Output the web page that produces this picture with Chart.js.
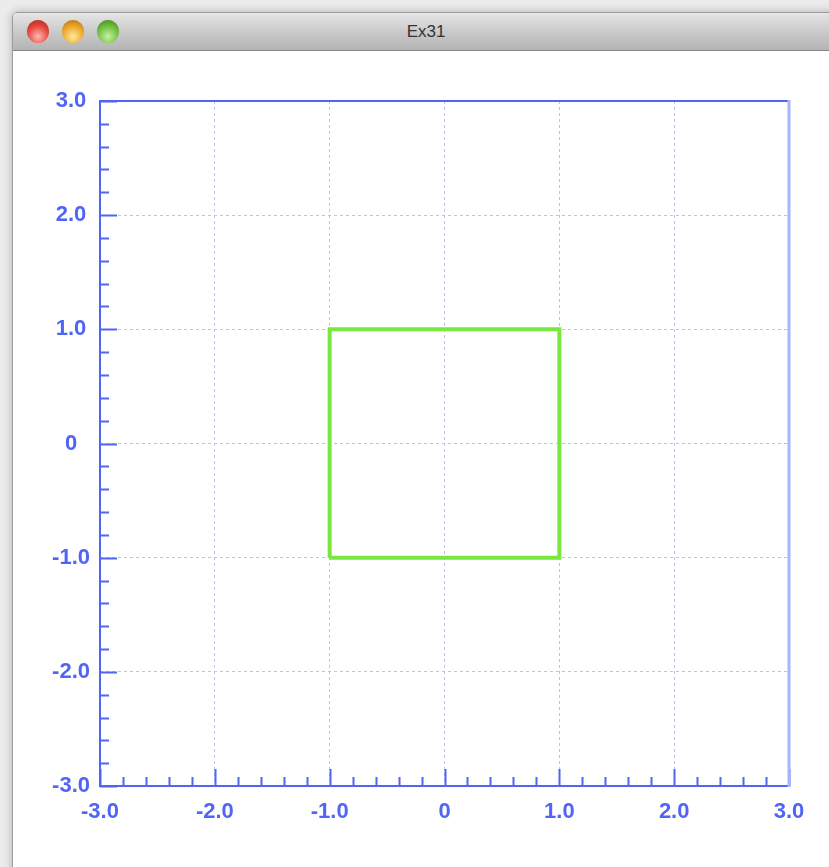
<!DOCTYPE html>
<html>
<head>
<meta charset="utf-8">
<script src="https://cdn.jsdelivr.net/npm/chart.js@4/dist/chart.umd.min.js"></script>
<style>
  html, body { margin: 0; padding: 0; }
  body { width: 829px; height: 867px; overflow: hidden; background: #ececec; position: relative; }
  #win {
    position: absolute; left: 12px; top: 12px; width: 826px; height: 870px;
    background: #fff; border: 1px solid #9c9c9c; border-radius: 5px 5px 0 0;
    box-shadow: 0 0 10px rgba(0,0,0,0.25); overflow: hidden;
  }
  #bar {
    position: absolute; left: 0; top: 0; right: 0; height: 37px;
    background: linear-gradient(#e6e6e6, #cacaca 50%, #b4b4b4);
    border-bottom: 1px solid #868686;
  }
  .dot { position: absolute; top: 7px; width: 22px; height: 23px; border-radius: 50%; }
  .red { left: 14px; background: radial-gradient(circle at 50% 72%, #ffb8b0, #e5433a 55%, #a52a22); }
  .yel { left: 49px; background: radial-gradient(circle at 50% 72%, #ffea9c, #eca427 55%, #a86c10); }
  .grn { left: 84px; background: radial-gradient(circle at 50% 72%, #c8f0a0, #6cbd3a 55%, #3f7f1c); }
  #title {
    position: absolute; left: 413px; top: 9px; transform: translateX(-50%);
    font: 17px "Liberation Sans Narrow", "Liberation Sans", Arial, sans-serif; color: #333;
  }
  #content { position: absolute; left: 0; top: 38px; }
</style>
</head>
<body>
<div id="win">
  <div id="bar">
    <div class="dot red"></div><div class="dot yel"></div><div class="dot grn"></div>
    <div id="title">Ex31</div>
  </div>
  <div id="content"><canvas id="plot" width="816" height="817"></canvas></div>
</div>
<script>
// data
const squareX = [-1, 1, 1, -1, -1];
const squareY = [-1, -1, 1, 1, -1];
const axisMin = -3;
const axisMax = 3;
const minorStep = 0.2;
const majorTicks = [-3, -2, -1, 0, 1, 2, 3];
const majorLabels = ['-3.0', '-2.0', '-1.0', '0', '1.0', '2.0', '3.0'];

const BLUE = 'rgb(80, 100, 245)';
const GRID = 'rgb(190, 190, 255)';

function majorIndex(v) {
    return majorTicks.findIndex(m => Math.abs(m - v) < 1e-6);
}

function tickLabel(v) {
    const i = majorIndex(v);
    return i >= 0 ? majorLabels[i] : '';
}

// only inner major values get a dashed grid line
function gridColor(c) {
    const v = c.tick ? c.tick.value : null;
    if (v === null) return 'transparent';
    const i = majorIndex(v);
    if (i <= 0 || i === majorTicks.length - 1) return 'transparent';
    return GRID;
}

// ticks pointing inward + frame around the plot area
const framePlugin = {
    id: 'frame',
    afterDatasetsDraw(chart) {
        const {ctx, chartArea: a, scales} = chart;
        ctx.save();
        ctx.strokeStyle = BLUE;
        ctx.lineWidth = 2;
        ctx.beginPath();
        for (const t of scales.x.ticks) {
            const px = Math.round(scales.x.getPixelForValue(t.value)) + 0.5;
            const len = majorIndex(t.value) >= 0 ? 17 : 9;
            ctx.moveTo(px, a.bottom);
            ctx.lineTo(px, a.bottom - len);
        }
        for (const t of scales.y.ticks) {
            const py = Math.round(scales.y.getPixelForValue(t.value)) + 0.5;
            const len = majorIndex(t.value) >= 0 ? 17 : 9;
            ctx.moveTo(a.left, py);
            ctx.lineTo(a.left + len, py);
        }
        ctx.stroke();

        ctx.beginPath();
        ctx.moveTo(a.right, a.top);
        ctx.lineTo(a.left, a.top);
        ctx.lineTo(a.left, a.bottom);
        ctx.lineTo(a.right, a.bottom);
        ctx.stroke();

        ctx.strokeStyle = 'rgb(165, 180, 255)';
        ctx.lineWidth = 3;
        ctx.beginPath();
        ctx.moveTo(a.right, a.top - 1);
        ctx.lineTo(a.right, a.bottom + 1);
        ctx.stroke();
        ctx.restore();
    }
};

const tickFont = { family: '"Liberation Sans", Arial, sans-serif', size: 22, weight: 'bold' };

new Chart(document.getElementById('plot').getContext('2d'), {
    type: 'scatter',
    data: {
        datasets: [{
            data: squareX.map((x, i) => ({ x: x, y: squareY[i] })),
            showLine: true,
            borderColor: 'rgb(120, 232, 60)',
            borderWidth: 4,
            pointRadius: 0,
            fill: false,
            tension: 0,
        }]
    },
    options: {
        responsive: false,
        animation: false,
        layout: { padding: { top: 50, right: 40, bottom: 32, left: 0 } },
        plugins: { legend: { display: false }, tooltip: { enabled: false } },
        scales: {
            x: {
                type: 'linear', min: axisMin, max: axisMax,
                afterFit: s => { s.height = 50; },
                border: { display: false, dash: [3, 3] },
                grid: { drawTicks: false, color: gridColor, lineWidth: 1 },
                ticks: {
                    stepSize: minorStep, autoSkip: false, maxRotation: 0,
                    padding: 13, color: BLUE, font: tickFont,
                    callback: v => tickLabel(v)
                }
            },
            y: {
                type: 'linear', min: axisMin, max: axisMax,
                afterFit: s => { s.width = 87; },
                border: { display: false, dash: [3, 3] },
                grid: { drawTicks: false, color: gridColor, lineWidth: 1 },
                ticks: {
                    stepSize: minorStep, autoSkip: false,
                    padding: 10, crossAlign: 'center', color: BLUE, font: tickFont,
                    callback: v => tickLabel(v)
                }
            }
        }
    },
    plugins: [framePlugin]
});
</script>
</body>
</html>
